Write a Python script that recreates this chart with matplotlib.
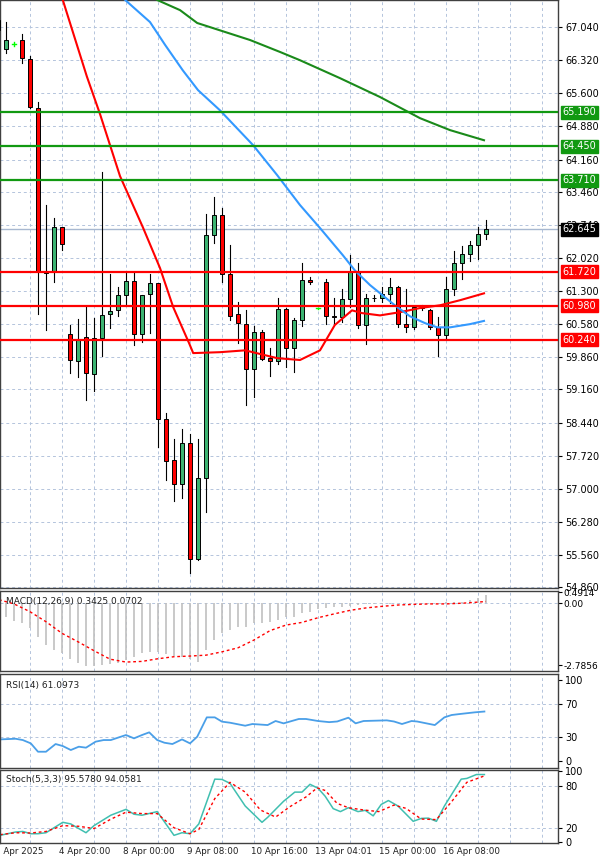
import numpy as np
import matplotlib.pyplot as plt

# OHLC, 4h candles
opens = [66.97, 66.57, 66.67, 66.75, 66.35, 65.28, 61.72, 61.72, 62.69, 60.36,
         59.77, 60.30, 59.49, 60.27, 60.80, 60.88, 61.21, 61.51, 60.36, 61.23,
         61.47, 58.52, 57.62, 57.10, 57.99, 55.47, 57.23, 62.51, 62.95, 61.67,
         60.80, 60.58, 59.60, 60.40, 59.84, 59.77, 60.90, 60.06, 60.67, 61.54,
         60.93, 61.49, 60.76, 60.73, 61.12, 61.73, 60.56, 61.14, 61.14, 61.23,
         61.38, 60.58, 60.51, 60.93, 60.88, 60.51, 60.34, 61.34, 61.90, 62.10,
         62.30, 62.54]
highs = [67.45, 67.15, 66.72, 66.89, 66.41, 65.41, 63.18, 62.89, 62.70, 60.56,
         60.69, 60.97, 60.71, 63.88, 61.68, 61.38, 61.71, 61.71, 61.22, 61.68,
         61.48, 58.64, 58.08, 58.29, 58.19, 58.08, 62.97, 63.34, 63.10, 62.30,
         61.06, 60.88, 60.53, 60.45, 60.06, 61.14, 60.93, 60.71, 61.90, 61.60,
         60.94, 61.56, 61.14, 61.34, 62.08, 61.90, 61.23, 61.21, 61.38, 61.58,
         61.40, 61.34, 60.97, 61.00, 60.90, 60.73, 61.60, 62.17, 62.28, 62.38,
         62.69, 62.84]
lows = [66.65, 66.48, 66.62, 66.27, 65.28, 60.80, 60.46, 61.49, 62.19, 59.51,
        59.43, 58.92, 59.12, 59.88, 60.49, 60.75, 60.99, 60.12, 60.19, 60.39,
        57.90, 57.19, 56.73, 56.80, 55.16, 55.46, 56.50, 62.34, 61.49, 60.66,
        60.16, 58.82, 58.99, 59.79, 59.45, 59.71, 59.64, 59.53, 60.53, 61.45,
        60.92, 60.58, 60.60, 60.62, 60.95, 60.49, 60.14, 61.08, 61.06, 61.04,
        60.51, 60.40, 60.47, 60.89, 60.47, 59.88, 60.27, 61.21, 61.56, 61.95,
        61.99, 62.43]
closes = [67.19, 66.76, 66.67, 66.37, 65.30, 61.72, 61.70, 62.69, 62.32, 59.80,
          60.23, 59.51, 60.27, 60.77, 60.86, 61.21, 61.51, 60.36, 61.21, 61.47,
          58.52, 57.60, 57.10, 57.99, 55.47, 57.23, 62.51, 62.95, 61.67, 60.75,
          60.60, 59.60, 60.40, 59.82, 59.77, 60.90, 60.06, 60.665, 61.535, 61.49,
          60.93, 60.75, 60.74, 61.12, 61.73, 60.56, 61.14, 61.15, 61.23, 61.38,
          60.58, 60.51, 60.95, 60.95, 60.51, 60.34, 61.34, 61.90, 62.10, 62.30,
          62.54, 62.645]

# moving averages (sampled along the lines)
ma_red_x = [7, 8.1, 11.1, 12.75, 15.25, 18.1, 20.25, 21.9, 23.9, 24.4, 27.75, 30.9,
            34.9, 37.75, 40.25, 42.1, 44.25, 45.5, 47.75, 50.25, 52.75, 55.25, 57.75, 60.75]
ma_red = [68.0, 67.63, 65.97, 65.15, 63.80, 62.69, 61.80, 60.95, 60.16, 59.95, 59.97, 60.01,
          59.84, 59.80, 60.01, 60.56, 60.88, 60.82, 60.77, 60.84, 60.93, 60.99, 61.10, 61.25]
ma_blue_x = [15.9, 19, 20.9, 23.1, 25, 27.75, 31.9, 34.9, 37.75, 40.25, 43.1, 44.6,
             46.5, 49.6, 51.5, 53.4, 54.9, 56.5, 59, 60.75]
ma_blue = [67.63, 67.15, 66.65, 66.10, 65.67, 65.23, 64.47, 63.82, 63.17, 62.67, 62.08, 61.75,
           61.43, 60.99, 60.75, 60.60, 60.51, 60.51, 60.58, 60.65]
ma_green_x = [19.9, 22.75, 24.9, 27.75, 31.5, 35.25, 37.75, 42.75, 47.75, 52.75, 56.5, 60.75]
ma_green = [67.63, 67.41, 67.13, 66.97, 66.76, 66.50, 66.32, 65.93, 65.52, 65.06, 64.80, 64.58]

resistance = [65.19, 64.45, 63.71]
support = [61.72, 60.98, 60.24]
last_price = 62.645
price_ticks = [67.04, 66.32, 65.60, 64.88, 64.16, 63.46, 62.74, 62.02, 61.30, 60.58,
               59.86, 59.16, 58.44, 57.72, 57.00, 56.28, 55.56, 54.86]

macd_hist = [-0.61, -0.81, -0.91, -1.14, -1.54, -1.89, -2.11, -2.23, -2.49, -2.68,
             -2.83, -2.81, -2.78, -2.75, -2.71, -2.56, -2.41, -2.23, -2.19, -2.19,
             -2.29, -2.38, -2.41, -2.49, -2.64, -2.11, -1.66, -1.33, -1.21, -1.06,
             -1.06, -0.91, -0.91, -0.84, -0.76, -0.64, -0.61, -0.46, -0.39, -0.28,
             -0.24, -0.19, -0.16, -0.13, -0.09, -0.06, -0.06, -0.04, -0.04, -0.01,
             -0.01, -0.01, 0.0, 0.01, 0.02, 0.03, 0.04, 0.05, 0.12, 0.22, 0.34]
macd_sig_x = list(range(0, 61, 2)) + [61]
macd_sig = [0.16, -0.04, -0.39, -0.84, -1.36, -1.74, -2.14, -2.52, -2.65, -2.62, -2.50,
            -2.41, -2.38, -2.34, -2.19, -2.01, -1.66, -1.24, -0.99, -0.87, -0.66, -0.49,
            -0.33, -0.22, -0.15, -0.09, -0.06, -0.04, -0.04, -0.01, 0.04, 0.07]

rsi_x = [0.25, 2.2, 3.1, 4.1, 5, 6, 7.2, 8.1, 9.1, 10.1, 11, 12.2, 13.2, 14.1, 15.1, 16,
         17, 18, 18.9, 19.9, 20.8, 21.8, 23, 24, 24.9, 26.1, 27.1, 28, 29, 30.9, 31.8,
         33.7, 34.7, 35.7, 37.6, 38.5, 40, 41.4, 42.4, 43.8, 44.7, 45.7, 48.6, 49.5,
         50.5, 51.7, 52.4, 54.6, 55.8, 56.7, 57.7, 59.6, 60.8]
rsi = [26.7, 27.5, 25.9, 21.8, 11.5, 11.5, 21, 18.5, 13.6, 17.7, 16.5, 23.9, 25.9, 25.9,
       29.2, 32.1, 28, 32.1, 35.4, 25.9, 22.6, 21, 26.7, 21.8, 30, 53.9, 53.9, 48.6, 47.3,
       43.6, 45.7, 44.4, 49.4, 46.5, 51.9, 51.9, 49.4, 48, 48.8, 53.5, 46.5, 49.4, 50.2,
       48.8, 45.7, 49.4, 48.8, 44.4, 53.9, 56.8, 58.0, 60.1, 61.1]

stoch_x = [0.25, 2.2, 3.1, 4.1, 5, 6, 8.1, 9.1, 11, 12, 14.1, 16, 17, 18, 19.9, 22, 23,
           24, 25.1, 27.1, 28, 29, 30.9, 33, 33.7, 35.7, 37.1, 38, 39, 40, 40.9, 41.9,
           42.8, 43.8, 45, 45.9, 46.9, 47.9, 48.8, 50, 51.9, 52.9, 53.8, 54.8, 55.8,
           57.9, 58.6, 59.8, 60.8]
stoch_k = [9.8, 14.5, 15.3, 12.1, 12.1, 13.5, 28.2, 25.9, 13.5, 23.5, 38.2, 46.5, 39.6,
           38.2, 43.3, 9.8, 13.5, 12.1, 25.9, 89.1, 88.7, 83.2, 51.2, 28.2, 35.1, 57.9,
           70.8, 70.8, 81.8, 76.3, 64.9, 47.5, 43.3, 48.8, 43.3, 45.1, 37.3, 53.4, 58.9,
           51.2, 29.6, 33.7, 34.1, 29.6, 51.2, 89.1, 90.1, 95.6, 95.6]
stoch_dx = [0.25, 2.2, 4.1, 6, 8.1, 10.1, 12, 14.1, 16, 18, 19.9, 22, 24, 25.1, 27.1, 29,
            30.9, 32.8, 34.7, 36.5, 38.5, 39.9, 40.9, 42.4, 43.8, 45.7, 47.6, 49.5, 51,
            52.9, 54.8, 56.7, 58.6, 60.8]
stoch_d = [10.8, 13.5, 13.1, 15.3, 23.5, 22.6, 19.4, 32.6, 42.5, 40.5, 40.5, 20.5, 12.1,
           18, 61.7, 84.6, 70.8, 45.6, 35.6, 50.3, 64, 76.8, 73.1, 54.8, 48.8, 45.6, 43.3,
           52.5, 47.9, 32.8, 32, 57.3, 84.6, 93.7]

date_labels = ["3 Apr 2025", "4 Apr 20:00", "8 Apr 00:00", "9 Apr 08:00", "10 Apr 16:00",
               "13 Apr 04:01", "15 Apr 00:00", "16 Apr 08:00"]
date_pos = [-0.4, 7.6, 15.6, 23.6, 31.6, 39.6, 47.6, 55.6]

grid_c = '#b4c4dc'
fig = plt.figure(figsize=(6, 8.64), dpi=100)
ax = fig.add_axes([0, 0.3194, 0.93, 0.6806])
ax_m = fig.add_axes([0, 0.2234, 0.93, 0.0926], sharex=ax)
ax_r = fig.add_axes([0, 0.1111, 0.93, 0.1088], sharex=ax)
ax_s = fig.add_axes([0, 0.0243, 0.93, 0.0845], sharex=ax)

vgrid = np.arange(0.05, 70, 4.0)
for a in (ax, ax_m, ax_r, ax_s):
    a.yaxis.tick_right()
    a.tick_params(axis='y', labelsize=7, length=3, pad=2)
    a.tick_params(axis='x', length=0, labelbottom=False)
    for v in vgrid:
        a.axvline(v, color=grid_c, ls=(0, (3, 3)), lw=0.7, zorder=0)
    for s in a.spines.values():
        s.set_color('#404040')
        s.set_linewidth(1)

# main price panel
for y in price_ticks:
    ax.axhline(y, color=grid_c, ls=(0, (3, 3)), lw=0.7, zorder=0)
for i in range(len(opens)):
    o, h, l, c = opens[i], highs[i], lows[i], closes[i]
    if o == c:
        ax.plot([i, i], [l, h], color='lime', lw=1, zorder=3)
        ax.plot([i - 0.3, i + 0.3], [o, o], color='lime', lw=1, zorder=3)
        continue
    ax.plot([i, i], [l, h], color='black', lw=0.8, zorder=3)
    col = '#3cb371' if c > o else 'red'
    ax.bar(i, abs(c - o), bottom=min(o, c), width=0.62, color=col,
           edgecolor='black', linewidth=0.7, zorder=4)

ax.plot(ma_red_x, ma_red, color='red', lw=1.5, zorder=5)
ax.plot(ma_blue_x, ma_blue, color='#3399ff', lw=1.5, zorder=5)
ax.plot(ma_green_x, ma_green, color='#1a8a1a', lw=1.5, zorder=5)
ax.axhline(last_price, color='#a8b8d0', lw=1, zorder=2)
for y in resistance:
    ax.axhline(y, color='#119911', lw=1.6, zorder=6)
for y in support:
    ax.axhline(y, color='red', lw=1.6, zorder=6)

ax.set_xlim(0.25, 70)
ax.set_ylim(54.84, 67.63)
ax.set_yticks(price_ticks)
ax.set_yticklabels([f"{t:.3f}" for t in price_ticks])

def price_box(y, fc):
    ax.text(1.008, y, f"{y:.3f}", transform=ax.get_yaxis_transform(), fontsize=7,
            color='white', va='center', ha='left', zorder=10, clip_on=False,
            bbox=dict(boxstyle='square,pad=0.15', fc=fc, ec=fc))

for y in resistance:
    price_box(y, '#119911')
for y in support:
    price_box(y, 'red')
price_box(last_price, 'black')

# MACD
ax_m.set_ylim(-3.05, 0.54)
ax_m.axhline(0, color=grid_c, ls=(0, (3, 3)), lw=0.7, zorder=0)
ax_m.vlines(range(1, len(macd_hist) + 1), 0, macd_hist, color='#c0c0c0', lw=1.2)
ax_m.plot(macd_sig_x, macd_sig, color='red', ls=(0, (2, 2)), lw=1)
ax_m.set_yticks([0.4914, 0.0, -2.7856])
ax_m.set_yticklabels(['0.4914', '0.00', '-2.7856'])
ax_m.tick_params(axis='y', labelsize=6.5, pad=1)
ax_m.text(0.01, 0.93, 'MACD(12,26,9) 0.3425 0.0702', transform=ax_m.transAxes,
          fontsize=6.5, va='top', color='#202020')

# RSI
ax_r.set_ylim(-8.6, 107.4)
for y in (70, 30):
    ax_r.axhline(y, color=grid_c, ls=(0, (3, 3)), lw=0.7, zorder=0)
ax_r.plot(rsi_x, rsi, color='#4a9fe8', lw=1.3)
ax_r.set_yticks([100, 70, 30, 0])
ax_r.text(0.01, 0.93, 'RSI(14) 61.0973', transform=ax_r.transAxes,
          fontsize=6.5, va='top', color='#202020')

# Stochastic
ax_s.set_ylim(-1, 102)
for y in (80, 20):
    ax_s.axhline(y, color=grid_c, ls=(0, (3, 3)), lw=0.7, zorder=0)
ax_s.plot(stoch_x, stoch_k, color='#40bfb0', lw=1.1)
ax_s.plot(stoch_dx, stoch_d, color='red', ls=(0, (2, 2)), lw=1)
ax_s.set_yticks([100, 80, 20, 0])
ax_s.text(0.01, 0.93, 'Stoch(5,3,3) 95.5780 94.0581', transform=ax_s.transAxes,
          fontsize=6.5, va='top', color='#202020')

for lab, xp in zip(date_labels, date_pos):
    ax_s.text(xp, -6, lab, fontsize=6.3, ha='left', va='top',
              color='#202020', clip_on=False)

fig.savefig('out.png', dpi=100)
